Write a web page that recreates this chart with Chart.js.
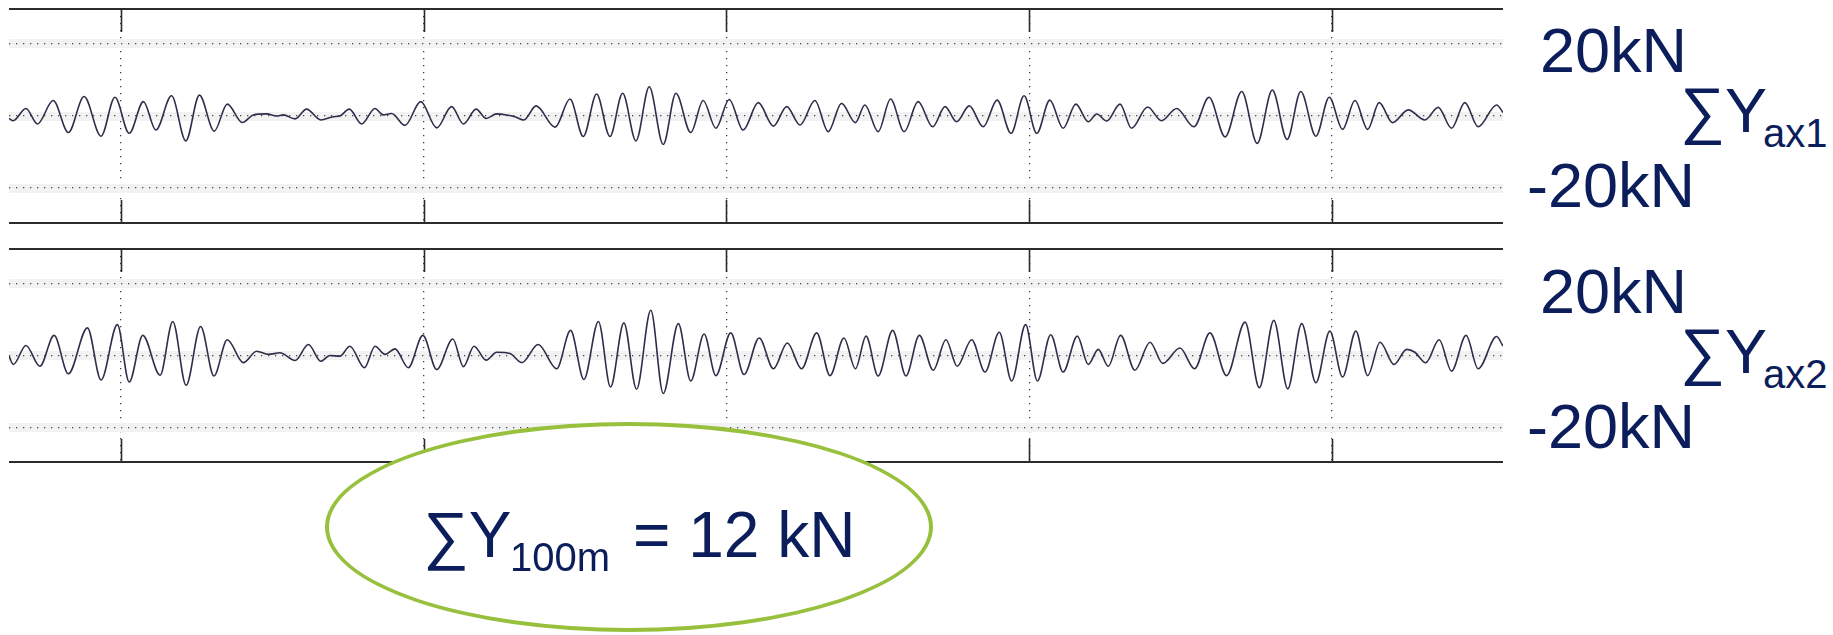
<!DOCTYPE html>
<html>
<head>
<meta charset="utf-8">
<script src="https://cdn.jsdelivr.net/npm/chart.js@4.4.1/dist/chart.umd.min.js"></script>
<style>
  html, body { margin: 0; padding: 0; background: #fff; }
  body { width: 1833px; height: 635px; position: relative; overflow: hidden;
         font-family: "Liberation Sans", Arial, sans-serif; color: #0b1e5b; }
  .panel { position: absolute; left: 9px; width: 1494px; }
  .txt { position: absolute; line-height: 1; white-space: pre; }
  #ellipse { position: absolute; left: 325px; top: 422px; width: 608px; height: 210px;
             box-sizing: border-box; border: 4.5px solid #97c03d; border-radius: 50%;
             background: #fff; }
</style>
</head>
<body>
<div class="panel" style="top:6px;height:220px"><canvas id="ax1Chart"></canvas></div>
<div class="panel" style="top:246px;height:219px"><canvas id="ax2Chart"></canvas></div>
<div id="ellipse"></div>
<div id="labels"></div>

<script>
// distance axis (vertical grid every 100), force in kN
const xTicks = [100, 200, 300, 400, 500]
const yTicks = [-20, 0, 20]
const xRange = [63, 556.5]
const yRange = [-29.7, 29.7]
const tickLabels = ['20kN', '-20kN']
const seriesNames = ['ax1', 'ax2']
const resultLabel = ['100m', '= 12 kN']

// sum of lateral forces, axle 1 (peaks / troughs)
const ax1 = [
  [63.0,-0.65],[64.4,-1.3],[68.6,2.1],[72.4,-2.2],[77.6,4.3],[82.6,-4.6],[87.8,5.4],[93.4,-5.6],
  [98.0,5.2],[102.7,-4.8],[107.4,4.0],[111.5,-3.9],[116.7,5.6],[121.4,-6.9],[125.9,5.8],[130.8,-4.2],
  [135.1,3.3],[140.1,-1.8],[143.7,0.3],[148.1,0.6],[151.4,0],[153.6,0.3],[157.5,-0.8],[161.3,1.9],
  [166.0,-1.1],[170.1,-0.2],[172.3,0],[175.4,1.9],[179.5,-2.2],[183.9,2.1],[186.6,0.3],[189.4,0.7],
  [193.8,-2.6],[199.0,4.0],[204.3,-3.3],[209.2,2.6],[213.1,-2.2],[217.3,1.9],[220.6,-0.7],[224.1,0.6],
  [227.4,0.3],[230.1,-0.2],[233.1,-1.1],[237.1,2.8],[243.4,-3.1],[248.3,4.7],[252.7,-5.7],[257.1,6.1],
  [261.5,-5.7],[265.7,6.3],[270.1,-6.9],[274.5,8.1],[279.1,-7.9],[283.3,6.3],[288.2,-4.6],[292.3,4.3],
  [296.5,-3.4],[300.9,4.6],[305.5,-3.9],[310.5,3.7],[315.5,-2.8],[319.9,2.6],[324.3,-2.5],[329.2,4.3],
  [333.6,-4.35],[338.0,3.5],[342.6,-1.85],[345.7,3.05],[350.1,-4.35],[354.2,4.7],[358.7,-4.35],[363.3,4.0],
  [368.1,-3.0],[372.2,2.6],[376.0,-1.6],[380.2,2.8],[384.8,-3.0],[389.4,4.4],[394.0,-4.8],[398.3,5.6],
  [402.5,-4.8],[406.8,4.4],[411.2,-3.4],[415.4,3.3],[419.5,-1.6],[422.3,0.55],[425.6,-1.4],[430.0,3.3],
  [433.8,-3.4],[439.1,2.5],[443.7,-1.3],[448.7,2.1],[454.4,-3.0],[459.4,5.2],[464.7,-5.8],[470.2,6.8],
  [475.3,-7.6],[480.3,7.2],[485.2,-6.5],[489.7,6.8],[494.7,-5.6],[499.1,5.2],[503.5,-3.7],[507.6,4.3],
  [511.8,-3.7],[515.6,3.7],[520.0,-1.85],[525.2,1.7],[530.7,-1.1],[535.1,2.4],[539.5,-3.4],[543.9,3.7],
  [548.3,-3.0],[554.4,3.05],[556.5,1.0]
]

// axle 2
const ax2 = [
  [63.0,-0.2],[64.4,-2.5],[68.6,2.8],[73.2,-3.0],[77.9,5.6],[82.6,-5.1],[88.9,7.7],[93.4,-6.85],
  [98.8,8.6],[102.7,-7.4],[107.2,5.6],[112.9,-5.5],[117.1,9.5],[121.5,-8.3],[126.3,8.1],[130.7,-5.7],
  [135.1,4.4],[140.4,-2.0],[144.8,1.2],[148.7,0.3],[152.5,0.75],[157.5,-1.4],[161.9,3.05],[166.0,-1.6],
  [169.0,0],[172.3,-0.2],[175.6,2.6],[180.4,-3.4],[183.9,2.6],[187.2,0.3],[190.5,1.85],[194.9,-3.4],
  [199.7,5.6],[204.3,-3.9],[209.6,4.6],[213.1,-3.1],[216.6,2.6],[220.6,-1.3],[224.1,0.9],[228.5,0.55],
  [232.4,-2.0],[237.8,3.05],[243.9,-3.7],[248.5,7.0],[252.9,-6.7],[257.7,9.5],[261.7,-8.8],[266.1,9.1],
  [270.3,-9.4],[275.0,12.6],[279.1,-10.6],[284.1,8.9],[288.2,-7.1],[292.6,6.0],[296.5,-5.6],[301.4,6.3],
  [305.8,-5.3],[310.8,4.9],[315.5,-3.7],[320.1,3.5],[324.8,-3.7],[329.8,6.3],[334.2,-5.6],[338.8,4.9],
  [342.6,-3.7],[346.1,5.4],[350.1,-5.7],[354.9,7.0],[359.3,-5.7],[363.7,5.6],[368.3,-4.1],[372.5,4.4],
  [376.2,-3.0],[381.0,4.4],[385.4,-4.6],[390.1,6.5],[394.2,-7.1],[398.8,8.6],[402.7,-7.1],[407.1,5.8],
  [411.2,-4.6],[415.9,5.4],[419.5,-2.5],[422.8,1.7],[426.1,-3.0],[430.2,5.6],[434.9,-4.1],[439.9,3.7],
  [444.1,-2.2],[449.8,2.1],[454.6,-3.7],[459.7,6.3],[465.2,-5.6],[471.3,9.3],[476.0,-9.0],[480.8,9.8],
  [485.4,-9.3],[490.0,8.9],[494.7,-7.6],[499.3,6.8],[503.5,-6.0],[507.9,6.8],[511.8,-5.6],[515.9,3.7],
  [520.5,-2.5],[524.7,1.7],[527.4,0.9],[531.0,-2.0],[535.4,4.4],[539.5,-4.35],[544.3,5.6],[548.3,-3.7],
  [554.4,5.3],[556.5,2.6]
]

// top border and the short solid tick stubs at each vertical grid line
const frameTicks = {
  id: 'frameTicks',
  afterDraw(chart) {
    const {ctx, chartArea: a, scales: {x}} = chart
    ctx.save()
    ctx.strokeStyle = '#2b2b2b'
    ctx.lineWidth = 2
    ctx.beginPath()
    ctx.moveTo(a.left, a.top)
    ctx.lineTo(a.right, a.top)
    ctx.stroke()
    ctx.lineWidth = 1.6
    ctx.beginPath()
    x.ticks.forEach(t => {
      const px = Math.round(x.getPixelForValue(t.value)) + 0.5
      ctx.moveTo(px, a.top); ctx.lineTo(px, a.top + 23)
      ctx.moveTo(px, a.bottom - 23); ctx.lineTo(px, a.bottom)
    })
    ctx.stroke()
    ctx.restore()
  }
}

const setTicks = list => scale => { scale.ticks = list.map(v => ({value: v})) }
const noSize = scale => { scale.width = 0; scale.height = 0 }

function drawTrace(id, points)
{
  new Chart(id, {
    type: 'line',
    data: {
      datasets: [{
        data: points.map(([x, y]) => ({x, y})),
        borderColor: '#2e2e4a',
        borderWidth: 1.6,
        pointRadius: 0,
        cubicInterpolationMode: 'monotone',
        fill: false
      }]
    },
    options: {
      animation: false,
      responsive: true,
      maintainAspectRatio: false,
      layout: {padding: {top: 3, bottom: 3, left: 0, right: 0}},
      plugins: {legend: {display: false}, tooltip: {enabled: false}},
      scales: {
        x: {
          type: 'linear', min: xRange[0], max: xRange[1],
          afterBuildTicks: setTicks(xTicks), afterFit: noSize,
          ticks: {display: false},
          grid: {color: '#3c3c3c', lineWidth: 1.3, drawTicks: false},
          border: {display: true, color: '#2b2b2b', width: 2, dash: [1.3, 5.7]}
        },
        yBand: {
          type: 'linear', position: 'left', min: yRange[0], max: yRange[1],
          afterBuildTicks: setTicks(yTicks), afterFit: noSize,
          ticks: {display: false},
          grid: {color: '#f2f2f2', lineWidth: 9, drawTicks: false, z: -1},
          border: {display: false}
        },
        y: {
          type: 'linear', min: yRange[0], max: yRange[1],
          afterBuildTicks: setTicks(yTicks), afterFit: noSize,
          ticks: {display: false},
          grid: {color: '#4a4a4a', lineWidth: 1.3, drawTicks: false},
          border: {display: false, dash: [1.3, 5.7]}
        }
      }
    },
    plugins: [frameTicks]
  })
}

// text placed by baseline (Liberation Sans, line-height 1)
function addText(str, left, baseline, size)
{
  const el = document.createElement('span')
  el.className = 'txt'
  el.textContent = str
  el.style.left = left + 'px'
  el.style.top = (baseline - 0.8465 * size) + 'px'
  el.style.fontSize = size + 'px'
  document.getElementById('labels').appendChild(el)
}

drawTrace('ax1Chart', ax1)
drawTrace('ax2Chart', ax2)

const panelBaselines = [[72, 132, 147, 207], [313, 373, 388, 448]]
seriesNames.forEach((name, i) => {
  const [top, sig, sub, bottom] = panelBaselines[i]
  addText(tickLabels[0], 1540, top, 63)
  addText('\u2211Y', 1680, sig, 63)
  addText(name, 1763, sub, 40)
  addText(tickLabels[1], 1527, bottom, 63)
})

addText('\u2211Y', 423, 557, 64)
addText(resultLabel[0], 510, 571, 40)
addText(resultLabel[1], 633, 557, 64)
</script>
</body>
</html>
